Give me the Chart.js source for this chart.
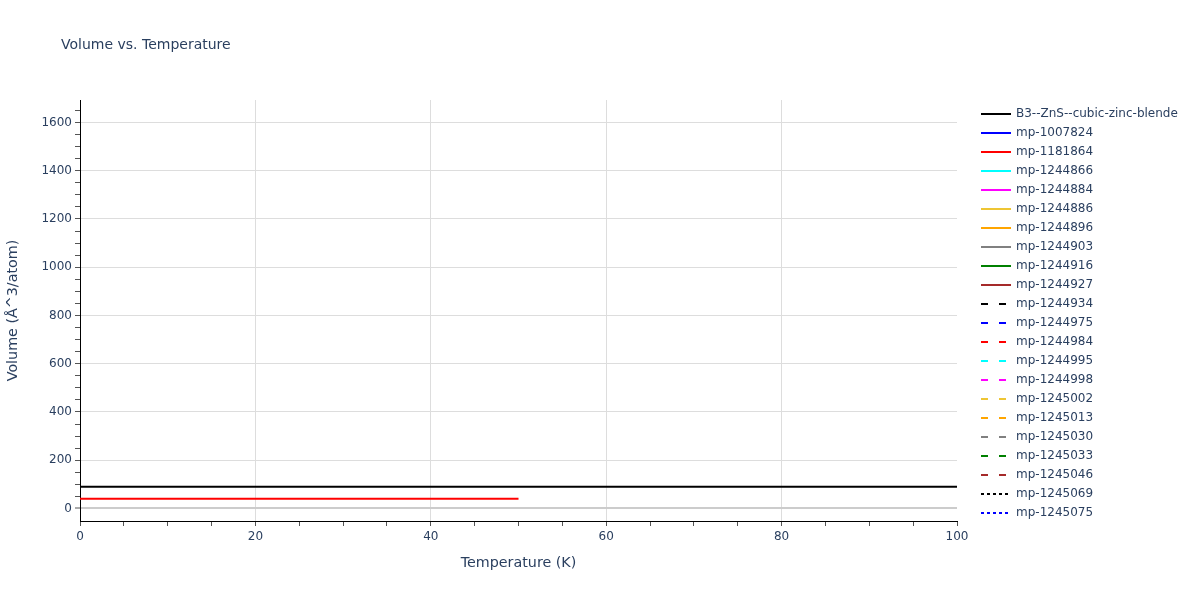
<!DOCTYPE html>
<html>
<head>
<meta charset="utf-8">
<script src="https://cdn.jsdelivr.net/npm/chart.js@4"></script>
<style>
html,body{margin:0;padding:0;background:#fff;}
#wrap{width:1200px;height:600px;position:relative;}
</style>
</head>
<body>
<div id="wrap"><canvas id="c" width="1200" height="600"></canvas></div>
<script>
// ---- data ----
const seriesNames = ["B3--ZnS--cubic-zinc-blende","mp-1007824","mp-1181864","mp-1244866","mp-1244884","mp-1244886","mp-1244896","mp-1244903","mp-1244916","mp-1244927","mp-1244934","mp-1244975","mp-1244984","mp-1244995","mp-1244998","mp-1245002","mp-1245013","mp-1245030","mp-1245033","mp-1245046","mp-1245069","mp-1245075"];
const seriesColors = ["#000000","#0000ff","#ff0000","#00ffff","#ff00ff","#eec534","#ffa500","#808080","#008000","#a52a2a","#000000","#0000ff","#ff0000","#00ffff","#ff00ff","#eec534","#ffa500","#808080","#008000","#a52a2a","#000000","#0000ff"];
const seriesDash = ["solid","solid","solid","solid","solid","solid","solid","solid","solid","solid","dash","dash","dash","dash","dash","dash","dash","dash","dash","dash","dot","dot"];

const tempB3 = [0,10,20,30,40,50,60,70,80,90,100];
const volB3  = [90.4,90.4,90.4,90.4,90.4,90.4,90.4,90.4,90.4,90.4,90.4];
const temp1181864 = [0,10,20,30,40,50];
const vol1181864  = [40.6,40.6,40.6,40.6,40.6,40.6];

const xTickLabels = [0,20,40,60,80,100];
const yTickLabels = [0,200,400,600,800,1000,1200,1400,1600];

const seriesData = {
  "B3--ZnS--cubic-zinc-blende": [tempB3, volB3],
  "mp-1181864": [temp1181864, vol1181864]
};

const dashMap = {solid: [], dash: [7, 11], dot: [3, 3]};
const FONT = "'DejaVu Sans', Verdana, sans-serif";
const TXT = "#2a3f5f";

const datasets = seriesNames.map((n, i) => {
  const d = seriesData[n];
  const pts = d ? d[0].map((x, k) => ({x: x, y: d[1][k]})) : [];
  return {
    label: n,
    data: pts,
    borderColor: seriesColors[i],
    backgroundColor: seriesColors[i],
    borderWidth: 2,
    borderDash: dashMap[seriesDash[i]],
    pointRadius: 0,
    fill: false,
    tension: 0
  };
});

const overlay = {
  id: 'overlay',
  afterDraw(chart) {
    const ctx = chart.ctx;
    ctx.save();
    // title
    ctx.fillStyle = TXT;
    ctx.font = "14px " + FONT;
    ctx.textBaseline = 'middle';
    ctx.textAlign = 'left';
    ctx.fillText("Volume vs. Temperature", 61, 45);
    // legend
    ctx.font = "12px " + FONT;
    chart.data.datasets.forEach((ds, i) => {
      const y = 114 + i * 19;
      ctx.beginPath();
      ctx.setLineDash(ds.borderDash || []);
      ctx.strokeStyle = ds.borderColor;
      ctx.lineWidth = 2;
      ctx.moveTo(981, y);
      ctx.lineTo(1011, y);
      ctx.stroke();
      ctx.setLineDash([]);
      ctx.fillStyle = TXT;
      ctx.fillText(ds.label, 1016, y);
    });
    ctx.restore();
  }
};

new Chart(document.getElementById('c'), {
  type: 'line',
  data: {datasets: datasets},
  plugins: [overlay],
  options: {
    responsive: false,
    animation: false,
    devicePixelRatio: 1,
    layout: {padding: {left: 0, right: 243, top: 100, bottom: 0}},
    plugins: {legend: {display: false}, title: {display: false}, tooltip: {enabled: false}},
    scales: {
      x: {
        type: 'linear',
        min: 0, max: 100,
        afterFit(s) { s.height = 79; },
        border: {display: true, color: '#000', width: 1},
        grid: {
          color: c => (c.tick && c.tick.value % 20 === 0 && c.tick.value > 0 && c.tick.value < 100) ? '#dddddd' : 'rgba(0,0,0,0)',
          tickColor: '#555',
          tickLength: 5,
          lineWidth: 1
        },
        ticks: {
          stepSize: 5,
          autoSkip: false,
          maxRotation: 0,
          padding: 4,
          color: TXT,
          font: {family: FONT, size: 12},
          callback: v => xTickLabels.includes(v) ? String(v) : ''
        },
        title: {display: true, text: 'Temperature (K)', color: TXT, font: {family: FONT, size: 14.3}, padding: {top: 0, bottom: 28.5}}
      },
      y: {
        type: 'linear',
        min: -52, max: 1693,
        afterFit(s) { s.width = 80; },
        border: {display: true, color: '#000', width: 1},
        grid: {
          color: c => {
            if (!c.tick) return 'rgba(0,0,0,0)';
            const v = c.tick.value;
            if (v === 0) return '#cccccc';
            return (v % 200 === 0 && v > 0) ? '#dddddd' : 'rgba(0,0,0,0)';
          },
          lineWidth: c => (c.tick && c.tick.value === 0) ? 2 : 1,
          tickColor: c => (c.tick && c.tick.value < 0) ? 'rgba(0,0,0,0)' : '#555',
          tickWidth: 1,
          tickLength: 5
        },
        ticks: {
          stepSize: 50,
          includeBounds: false,
          autoSkip: false,
          padding: 3,
          color: TXT,
          font: {family: FONT, size: 12},
          callback: v => yTickLabels.includes(v) ? String(v) : ''
        },
        title: {display: true, text: 'Volume (Å^3/atom)', color: TXT, font: {family: FONT, size: 14.3}, padding: {top: 4.5, bottom: 0}}
      }
    }
  }
});
</script>
</body>
</html>
